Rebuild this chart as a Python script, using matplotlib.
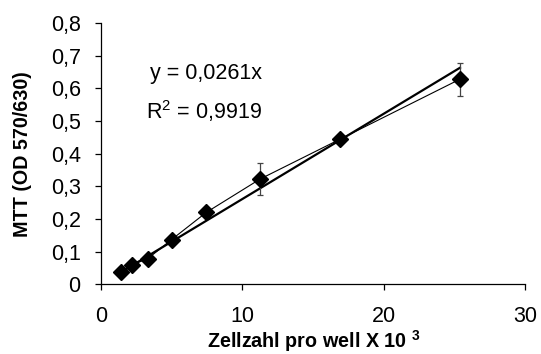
import numpy as np
import matplotlib
matplotlib.use("Agg")
import matplotlib.pyplot as plt
from matplotlib.ticker import FuncFormatter, MultipleLocator

# ── data ─────────────────────────────────────────────────────
zellzahl = [1.45, 2.2, 3.3, 5.0, 7.45, 11.25, 16.9, 25.4]
mtt = [0.038, 0.060, 0.078, 0.137, 0.220, 0.322, 0.444, 0.628]
mtt_err = [0.0, 0.0, 0.0, 0.0, 0.0, 0.048, 0.0, 0.050]
slope = 0.0261
r2 = 0.9919

plt.rcParams["font.family"] = ["Liberation Sans", "DejaVu Sans"]
plt.rcParams["mathtext.fontset"] = "custom"
plt.rcParams["mathtext.rm"] = "Liberation Sans"
plt.rcParams["mathtext.bf"] = "Liberation Sans:bold"
plt.rcParams["mathtext.default"] = "regular"

fig = plt.figure(figsize=(5.41, 3.54), dpi=100)
ax = fig.add_axes([0.1867, 0.197, 0.7837, 0.738])

# measured values with error bars
ax.errorbar(zellzahl, mtt, yerr=mtt_err, color="black", linewidth=0.8,
            marker="D", markersize=8, ecolor="#444444", elinewidth=0.9,
            capsize=2.5, capthick=0.9, zorder=3)

# linear trend through origin
xt = np.array([min(zellzahl), max(zellzahl)])
ax.plot(xt, slope * xt, color="black", linewidth=1.6, zorder=2)

ax.text(150 / 541, 1 - 74 / 354, "y = " + f"{slope:.4f}".replace(".", ",") + "x",
        transform=fig.transFigure, fontsize=15.5, va="center", ha="left")
ax.text(146 / 541, 1 - 111 / 354, "R$^2$ = " + f"{r2:.4f}".replace(".", ","),
        transform=fig.transFigure, fontsize=15.5, va="center", ha="left")

ax.set_xlim(0, 30)
ax.set_ylim(0, 0.8)
ax.xaxis.set_major_locator(MultipleLocator(10))
ax.yaxis.set_major_locator(MultipleLocator(0.1))
ax.xaxis.set_major_formatter(FuncFormatter(lambda v, p: f"{v:g}"))
ax.yaxis.set_major_formatter(FuncFormatter(lambda v, p: f"{v:.1f}".replace(".", ",") if v > 0.001 else "0"))

for s in ["top", "right"]:
    ax.spines[s].set_visible(False)
for s in ["left", "bottom"]:
    ax.spines[s].set_linewidth(0.9)

ax.tick_params(axis="x", direction="out", length=4, width=0.9, labelsize=15.5, pad=12)
ax.tick_params(axis="y", direction="out", length=4, width=0.9, labelsize=15.5, pad=10.6)

ax.set_xlabel("Zellzahl pro well X 10 $^3$", fontsize=14.2, fontweight="bold")
ax.set_ylabel("MTT (OD 570/630)", fontsize=14.2, fontweight="bold")
ax.xaxis.set_label_coords(0.501, -0.216)
ax.xaxis.label.set_va("center")
ax.yaxis.set_label_coords(-0.186, 0.499)
ax.yaxis.label.set_va("center")
ax.yaxis.label.set_ha("center")

fig.savefig("out.png", dpi=100)
